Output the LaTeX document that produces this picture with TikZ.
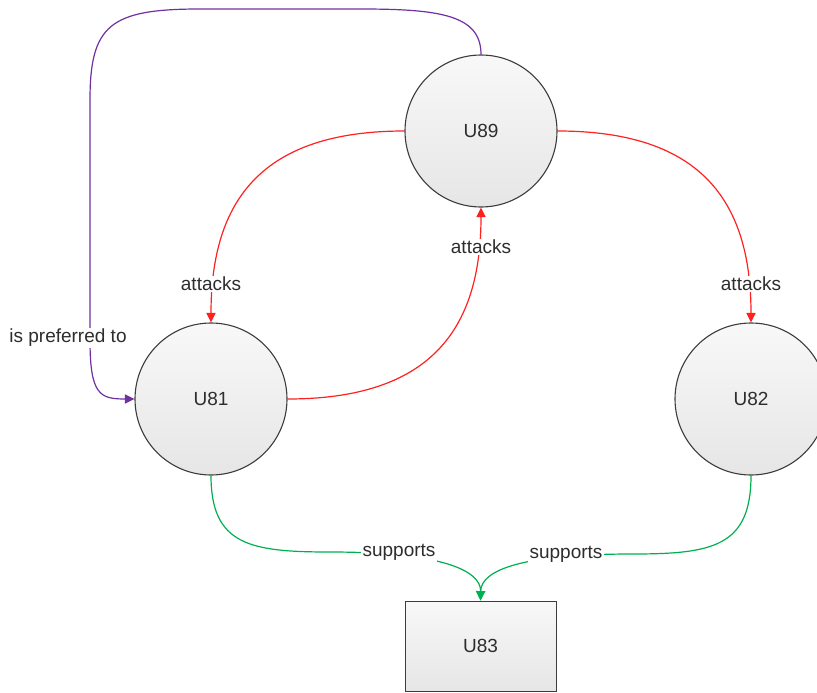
\documentclass[tikz,border=0pt]{standalone}
\usepackage{fontspec}
\setmainfont{Liberation Sans}
\usetikzlibrary{arrows.meta}
\definecolor{atkred}{RGB}{255,32,32}
\definecolor{prefpurple}{RGB}{112,48,160}
\definecolor{supgreen}{RGB}{0,176,80}
\definecolor{txtgray}{RGB}{45,45,45}
\definecolor{bordergray}{RGB}{60,60,60}
\definecolor{filltop}{RGB}{248,248,248}
\definecolor{fillbot}{RGB}{230,230,230}
\begin{document}
\begin{tikzpicture}[x=1pt,y=-1pt,
  lblfont/.style={font=\fontsize{19}{22}\selectfont},
  argcircle/.style={circle, draw=bordergray, line width=1.1pt, top color=filltop, bottom color=fillbot,
    minimum size=152pt, inner sep=0pt, text=txtgray, lblfont},
  argbox/.style={rectangle, draw=bordergray, line width=0.9pt, top color=filltop, bottom color=fillbot,
    minimum width=151pt, minimum height=90pt, inner sep=0pt, text=txtgray, lblfont},
  edgelbl/.style={fill=white, inner sep=1.5pt, text=txtgray, lblfont},
  tipstyle/.style={-{Triangle[length=9.5pt,width=9pt]}},
  atk/.style={draw=atkred, line width=1.2pt, tipstyle},
  pref/.style={draw=prefpurple, line width=1.2pt, tipstyle},
  sup/.style={draw=supgreen, line width=1.2pt, tipstyle}]
\useasboundingbox (0,0) rectangle (817,693);

% nodes
\node[argcircle] (U89) at (481,131) {U89};
\node[argcircle] (U81) at (211,399) {U81};
\node[argcircle] (U82) at (751,399) {U82};
\node[argbox] (U83) at (480.5,646) {U83};

% attacks
\draw[atk] (U89.west) .. controls (262,131) and (211,200) .. (U81.north);
\draw[atk] (U81.east) .. controls (430,399) and (481,330) .. (U89.south);
\draw[atk] (U89.east) .. controls (700,131) and (751,200) .. (U82.north);

% is preferred to
\draw[pref] (U89.north) .. controls (481,15) and (440,9) .. (360,9)
  -- (200,9) .. controls (110,9) and (90,25) .. (90,100)
  -- (90,340) .. controls (90,395) and (100,399) .. (U81.west);

% supports
\coordinate (sl) at (330,552);
\coordinate (sr) at (632,554);
\draw[sup] (U81.south) .. controls (211,545) and (250,552) .. (sl)
  .. controls (440,552) and (481,570) .. (U83.north);
\draw[sup] (U82.south) .. controls (751,547) and (712,554) .. (sr)
  .. controls (522,554) and (481,570) .. (U83.north);

% labels
\node[edgelbl] (la1) at (211,284) {attacks};
\node[edgelbl] (la2) at (481,247) {attacks};
\node[edgelbl] (la3) at (751,284) {attacks};
\node[edgelbl] (lp) at (68,338) {is preferred to};
\node[edgelbl] (ls1) at (399,552) {supports};
\node[edgelbl] (ls2) at (566,554) {supports};
\end{tikzpicture}
\end{document}
